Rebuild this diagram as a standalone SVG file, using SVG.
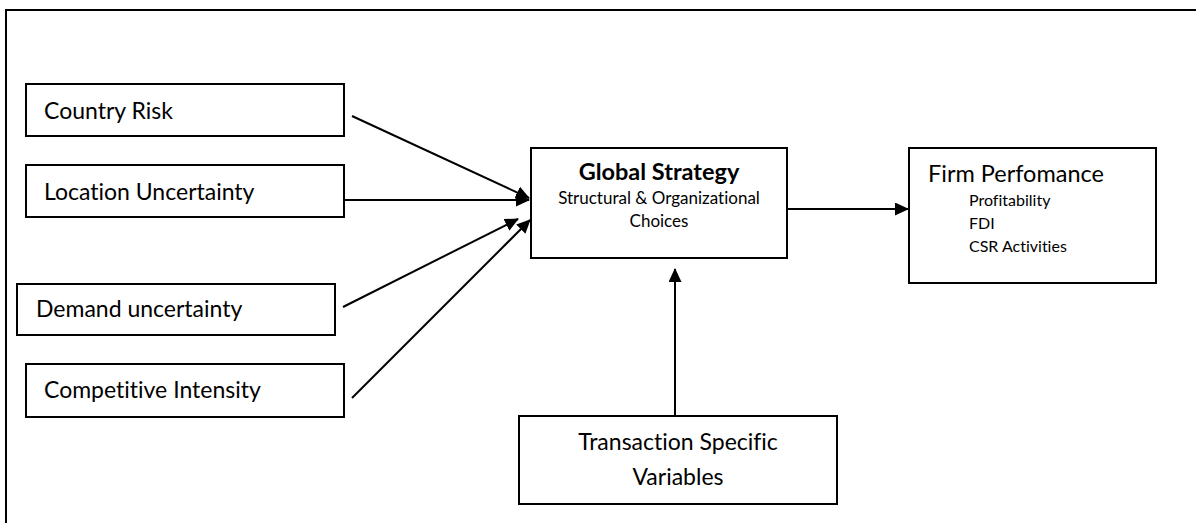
<svg xmlns="http://www.w3.org/2000/svg" width="1196" height="523" viewBox="0 0 1196 523">
<defs>
<style>
.box{fill:#fff;stroke:#000;stroke-width:2}
.t{font-family:Lato,"Liberation Sans",sans-serif;fill:#000;font-variant-ligatures:none}
.big{font-size:23px}
.sm{font-size:16px}
.con{stroke:#000;stroke-width:2;fill:none;marker-end:url(#ah)}
</style>
<marker id="ah" viewBox="0 0 14 13" refX="13" refY="6.5" markerWidth="14" markerHeight="13" markerUnits="userSpaceOnUse" orient="auto">
<path d="M0,0 L14,6.5 L0,13 Z" fill="#000"/>
</marker>
</defs>
<rect x="0" y="0" width="1196" height="523" fill="#fff"/>
<path d="M6,523 V10 H1196" fill="none" stroke="#000" stroke-width="2"/>
<g id="country-risk"><rect class="box" x="26" y="84" width="318" height="52"/><text class="t big" x="44" y="119">Country Risk</text></g>
<g id="location-uncertainty"><rect class="box" x="26" y="165" width="318" height="52"/><text class="t big" x="44" y="200">Location Uncertainty</text></g>
<g id="demand-uncertainty"><rect class="box" x="17" y="284" width="318" height="51"/><text class="t big" x="36" y="317">Demand uncertainty</text></g>
<g id="competitive-intensity"><rect class="box" x="26" y="364" width="318" height="53"/><text class="t big" x="44" y="398">Competitive Intensity</text></g>
<g id="global-strategy"><rect class="box" x="531" y="148" width="256" height="110"/>
<text class="t" x="659" y="180" text-anchor="middle" font-size="23.5" font-weight="bold">Global Strategy</text>
<text class="t" x="659" y="204" text-anchor="middle" font-size="17">Structural &amp; Organizational</text>
<text class="t" x="659" y="227" text-anchor="middle" font-size="17">Choices</text></g>
<g id="firm-performance"><rect class="box" x="909" y="148" width="247" height="135"/>
<text class="t" x="928" y="182" font-size="23.5">Firm Perfomance</text>
<text class="t sm" x="969" y="206">Profitability</text>
<text class="t sm" x="969" y="229">FDI</text>
<text class="t sm" x="969" y="252">CSR Activities</text></g>
<g id="transaction-specific"><rect class="box" x="519" y="416" width="318" height="88"/>
<text class="t big" x="678" y="450" text-anchor="middle">Transaction Specific</text>
<text class="t big" x="678" y="485" text-anchor="middle">Variables</text></g>
<g id="connectors">
<line class="con" x1="352" y1="116" x2="529" y2="198"/>
<line class="con" x1="344" y1="200" x2="529" y2="200"/>
<line class="con" x1="343" y1="307" x2="518" y2="219"/>
<line class="con" x1="352" y1="398" x2="530" y2="220"/>
<line class="con" x1="787" y1="209" x2="908" y2="209"/>
<line class="con" x1="675" y1="416" x2="675" y2="269"/>
</g>
</svg>
